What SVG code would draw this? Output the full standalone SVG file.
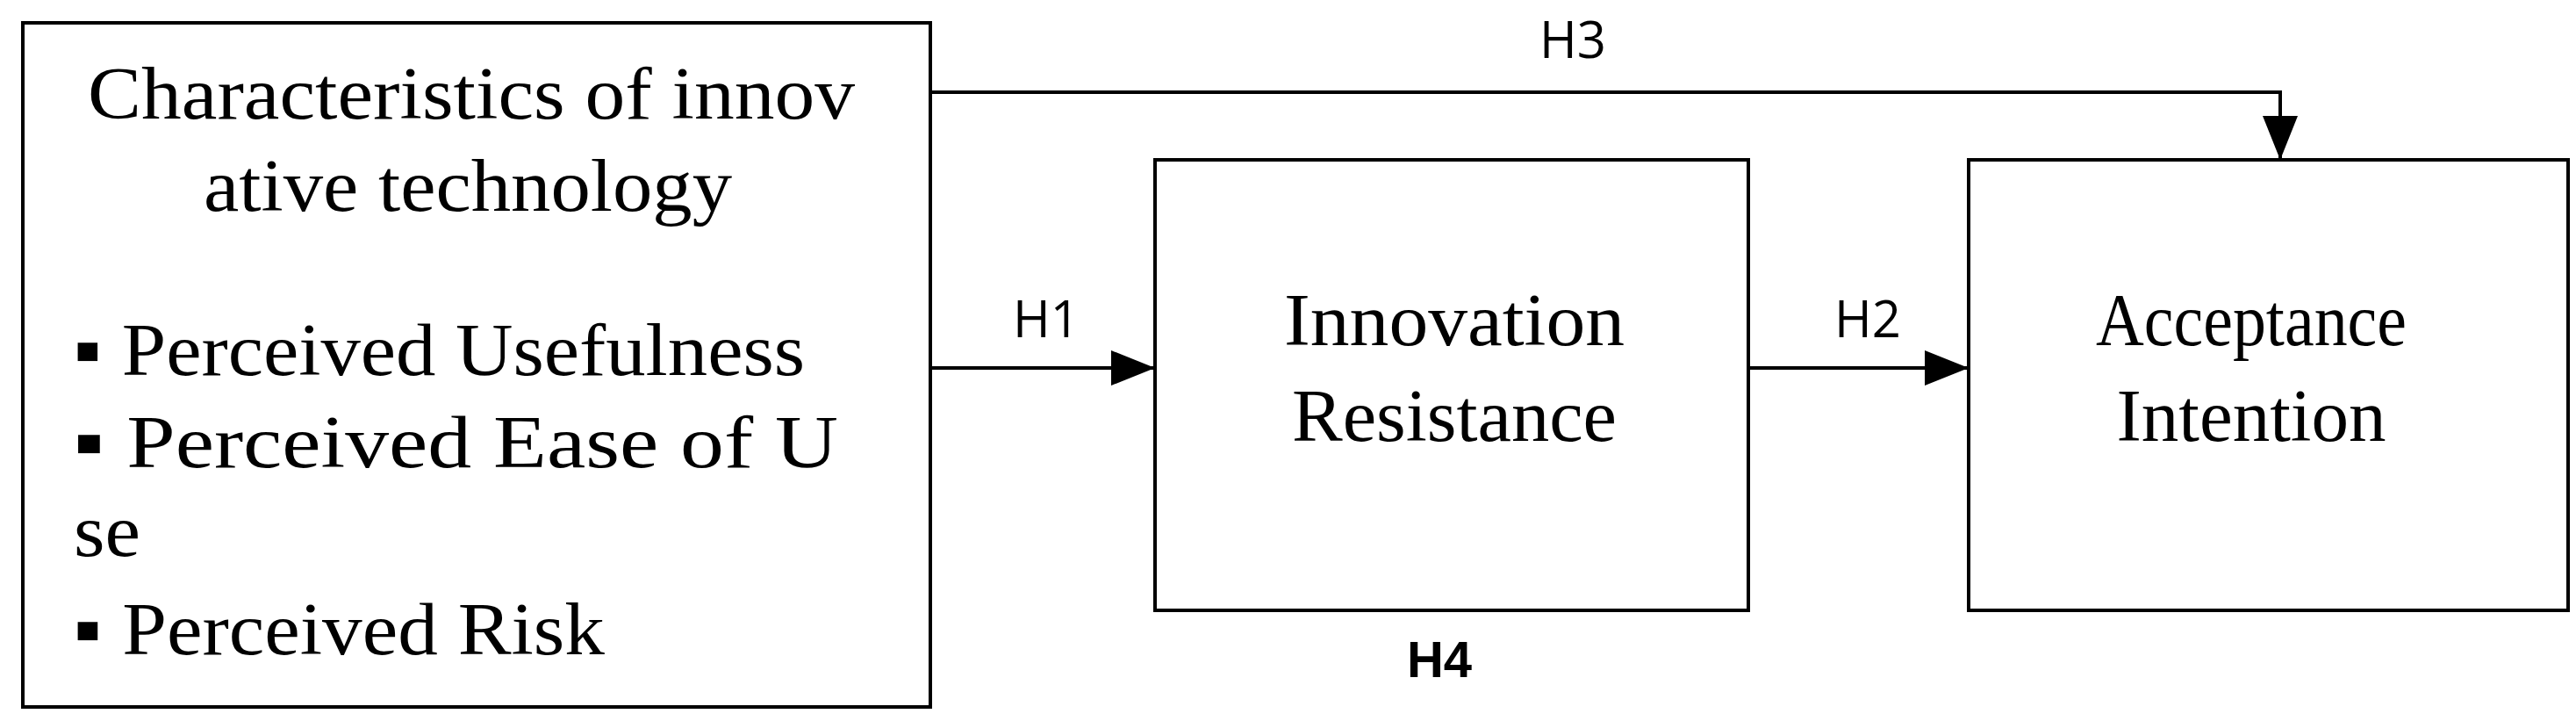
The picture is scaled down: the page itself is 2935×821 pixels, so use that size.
<svg xmlns="http://www.w3.org/2000/svg" width="2935" height="821" viewBox="0 0 2935 821">
<style>
.box{fill:#fff;stroke:#000;stroke-width:4}
.t{font-family:"Liberation Serif",serif;font-size:84px;fill:#000}
.h{font-family:"Open Sans","Liberation Sans",sans-serif;font-size:58px;fill:#000;text-anchor:middle}
.c{fill:none;stroke:#000;stroke-width:4}
</style>
<defs>
<marker id="ar" markerWidth="50" markerHeight="40" refX="50" refY="20" orient="auto" markerUnits="userSpaceOnUse" viewBox="0 0 50 40"><path d="M0,0L50,20L0,40z"/></marker></defs>
<rect width="2935" height="821" fill="#fff"/>
<g id="chars">
<rect class="box" x="26" y="26" width="1034" height="779"/>
<text class="t" x="100" y="135" textLength="874" lengthAdjust="spacingAndGlyphs">Characteristics of innov</text>
<text class="t" x="232" y="240" textLength="602" lengthAdjust="spacingAndGlyphs">ative technology</text>
<text class="t" x="84" y="427" textLength="833" lengthAdjust="spacingAndGlyphs">▪ Perceived Usefulness</text>
<text class="t" x="84" y="532" textLength="871" lengthAdjust="spacingAndGlyphs">▪ Perceived Ease of U</text>
<text class="t" x="84" y="633" textLength="76" lengthAdjust="spacingAndGlyphs">se</text>
<text class="t" x="84" y="745" textLength="605" lengthAdjust="spacingAndGlyphs">▪ Perceived Risk</text>
</g>
<g id="resistance">
<rect class="box" x="1316" y="182" width="676" height="513"/>
<text class="t" x="1657" y="393" text-anchor="middle" textLength="388" lengthAdjust="spacingAndGlyphs">Innovation</text>
<text class="t" x="1657" y="502" text-anchor="middle" textLength="370" lengthAdjust="spacingAndGlyphs">Resistance</text>
</g>
<g id="acceptance">
<rect class="box" x="2243" y="182" width="683" height="513"/>
<text class="t" x="2565" y="393" text-anchor="middle" textLength="354" lengthAdjust="spacingAndGlyphs">Acceptance</text>
<text class="t" x="2565" y="502" text-anchor="middle" textLength="307" lengthAdjust="spacingAndGlyphs">Intention</text>
</g>
<g id="connectors">
<path class="c" d="M1060,105H2598V182" marker-end="url(#ar)"/>
<path class="c" d="M1060,419H1316" marker-end="url(#ar)"/>
<path class="c" d="M1992,419H2243" marker-end="url(#ar)"/>
</g>
<g id="labels">
<text class="h" x="1792" y="66">H3</text>
<text class="h" x="1192" y="384">H1</text>
<text class="h" x="2128" y="384">H2</text>
<text class="h" x="1640" y="771" style="font-family:'Liberation Sans',sans-serif;font-weight:bold">H4</text>
</g>
</svg>
